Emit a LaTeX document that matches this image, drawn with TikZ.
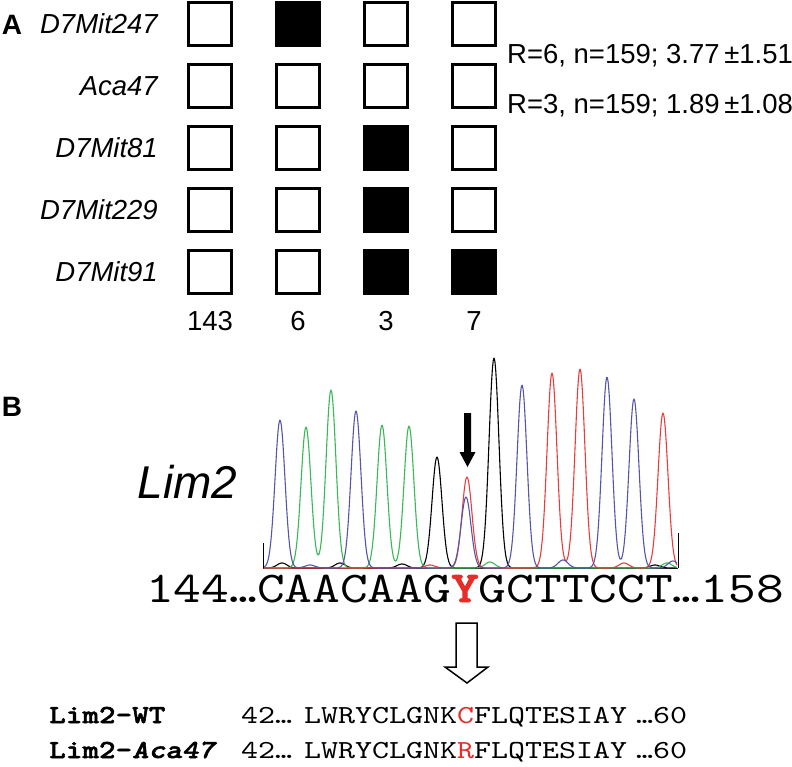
\documentclass[tikz,border=0pt]{standalone}
\usepackage{fontspec}
\setmainfont{Liberation Sans}
\newfontfamily\seqfont{lmmono10-regular}[Extension=.otf, FakeStretch=1.2]
\newfontfamily\seqbold{lmmonolt10-bold}[Extension=.otf, FakeStretch=1.2, FakeBold=2]
\newfontfamily\protfont{lmmono10-regular}[Extension=.otf, FakeStretch=1.245]
\newfontfamily\labfont{lmmonolt10-bold}[Extension=.otf, FakeStretch=1.216, FakeBold=2, ItalicFont=lmmonolt10-boldoblique]
\usetikzlibrary{positioning}
\definecolor{traceblue}{RGB}{85,85,170}
\definecolor{tracegreen}{RGB}{55,185,85}
\definecolor{tracered}{RGB}{235,60,60}
\definecolor{seqred}{RGB}{230,45,40}

\begin{document}
\begin{tikzpicture}[
            x = 1pt, y = -1pt, % pixel grid, y runs down
            node distance = 62pt and 88pt, % rows and columns
            on grid,
            declare function = {pk(\xx,\cc,\hh) = \hh*exp(-min(((\xx-\cc)/7)^2,20));}
        ]

        \tikzstyle{cell}=[
            draw,
            line width = 2.6pt,
            minimum size = 43.5pt,
            inner sep = 0pt
        ]
        \tikzstyle{hit}=[cell, fill = black]
        \tikzstyle{marker}=[anchor = east, inner sep = 0pt, font = \fontsize{27.5}{30}\selectfont\itshape]
        \tikzstyle{plain}=[inner sep = 0pt, font = \fontsize{27.5}{30}\selectfont]
        \tikzstyle{panel}=[inner sep = 0pt, font = \fontsize{28}{30}\selectfont\bfseries]
        \tikzstyle{trace}=[line width = 1.1pt, line join = round]
        \tikzstyle{prot}=[anchor = base west, inner sep = 0pt, font = \protfont\fontsize{26}{30}\selectfont]

        \useasboundingbox (0,0) rectangle (792,766);

        % panel A: haplotypes
        \node[panel] (A) at (12,25) {A};

        \node[cell] (b11) at (210,24) {};
        \node[hit] (b12) [right = of b11] {};
        \node[cell] (b13) [right = of b12] {};
        \node[cell] (b14) [right = of b13] {};

        \node[cell] (b21) [below = of b11] {};
        \node[cell] (b22) [right = of b21] {};
        \node[cell] (b23) [right = of b22] {};
        \node[cell] (b24) [right = of b23] {};

        \node[cell] (b31) [below = of b21] {};
        \node[cell] (b32) [right = of b31] {};
        \node[hit] (b33) [right = of b32] {};
        \node[cell] (b34) [right = of b33] {};

        \node[cell] (b41) [below = of b31] {};
        \node[cell] (b42) [right = of b41] {};
        \node[hit] (b43) [right = of b42] {};
        \node[cell] (b44) [right = of b43] {};

        \node[cell] (b51) [below = of b41] {};
        \node[cell] (b52) [right = of b51] {};
        \node[hit] (b53) [right = of b52] {};
        \node[hit] (b54) [right = of b53] {};

        % markers
        \node[marker] (m1) at (158,24) {D7Mit247};
        \node[marker] (m2) at (158,86) {Aca47};
        \node[marker] (m3) at (158,148) {D7Mit81};
        \node[marker] (m4) at (158,210) {D7Mit229};
        \node[marker] (m5) at (158,272) {D7Mit91};

        % counts
        \node[plain] (n1) [below = 49pt of b51] {143};
        \node[plain] (n2) [below = 49pt of b52] {6};
        \node[plain] (n3) [below = 49pt of b53] {3};
        \node[plain] (n4) [below = 49pt of b54] {7};

        % intervals
        \node[plain, anchor = base west] (r6) at (507,63) {R=6, n=159; 3.77\,±1.51};
        \node[plain, anchor = base west] (r3) at (507,113) {R=3, n=159; 1.89\,±1.08};

        % panel B: trace
        \node[panel] (B) at (12,407) {B};
        \node[inner sep = 0pt, font = \fontsize{46}{50}\selectfont\itshape] (gene) at (187.5,482) {Lim2};

        \draw[line width = 1pt, black!80] (263,568) -- (678,568);
        \draw[line width = 1pt] (263,543) -- (263,568);
        \draw[line width = 1pt] (678,533) -- (678,568);

        \draw[trace, black] plot[domain = 264:677, samples = 500]
            (\x, {568 - pk(\x,437,111) - pk(\x,494,210) - pk(\x,282,5) - pk(\x,340,5) - pk(\x,402,4) - pk(\x,655,3)});
        \draw[trace, tracegreen] plot[domain = 264:677, samples = 500]
            (\x, {568 - pk(\x,306,141) - pk(\x,331,178) - pk(\x,382,143) - pk(\x,409,142) - pk(\x,490,6) - pk(\x,667,5)});
        \draw[trace, tracered] plot[domain = 264:677, samples = 500]
            (\x, {568 - pk(\x,467,91) - pk(\x,552,195) - pk(\x,580,199) - pk(\x,663,155) - pk(\x,624,5) - pk(\x,430,3)});
        \draw[trace, traceblue] plot[domain = 264:677, samples = 500]
            (\x, {568 - pk(\x,280,148) - pk(\x,356,157) - pk(\x,466,71) - pk(\x,522,183) - pk(\x,607,191) - pk(\x,634,169) - pk(\x,563,8) - pk(\x,673,7) - pk(\x,310,3)});

        % mutation site
        \fill (464,413) -- (471,413) -- (471,452) -- (475.5,452) -- (467.5,467) -- (459.5,452) -- (464,452) -- cycle;

        \node[inner sep = 0pt, anchor = base west, font = \seqfont\fontsize{44}{50}\selectfont] (seq) at (146,602)
            {144…CAACAAG\textcolor{seqred}{\seqbold Y}GCTTCCT…158};

        \draw[line width = 1.5pt, fill = white, line join = miter]
            (456,623) -- (477,623) -- (477,667) -- (488,667) -- (467,683) -- (445,667) -- (456,667) -- cycle;

        % protein level
        \node[prot, font = \labfont\fontsize{26}{30}\selectfont] (wt) at (49,723) {Lim2-WT};
        \node[prot, font = \labfont\fontsize{26}{30}\selectfont] (mut) at (49,758) {Lim2-\textit{Aca47}};

        \node[prot] (wt0) at (241,723) {42…};
        \node[prot] (wts) at (304,723) {LWRYCLGNK\textcolor{seqred}{C}FLQTESIAY};
        \node[prot] (wt1) at (636,723) {…60};

        \node[prot] (mut0) at (241,758) {42…};
        \node[prot] (muts) at (304,758) {LWRYCLGNK\textcolor{seqred}{R}FLQTESIAY};
        \node[prot] (mut1) at (636,758) {…60};

\end{tikzpicture}
\end{document}
